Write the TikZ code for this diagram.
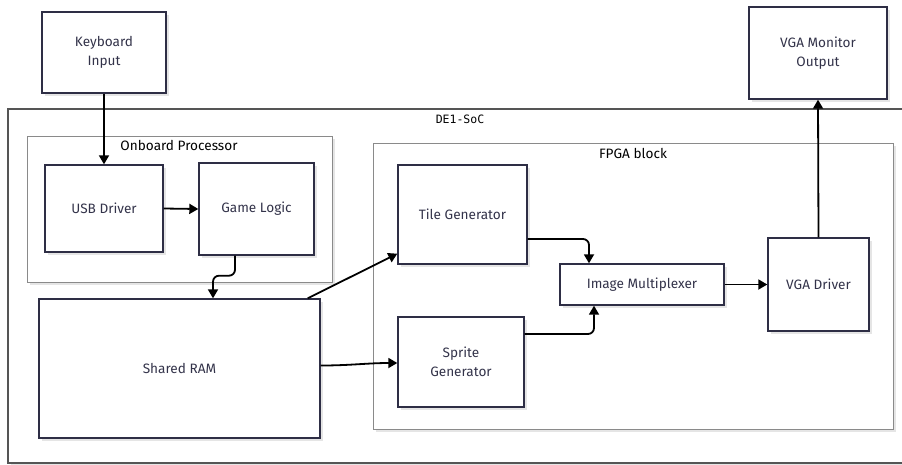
\documentclass[tikz,border=0pt]{standalone}
\usepackage{fontspec}
\setmainfont{Fira Sans}
\newfontfamily\monofont{DejaVu Sans Mono}
\usetikzlibrary{arrows.meta,shadows}
\definecolor{boxc}{HTML}{2E2E45}
\definecolor{txtc}{HTML}{33334A}
\definecolor{clgray}{HTML}{8A8A8A}
\definecolor{socgray}{HTML}{555555}
\begin{document}
\begin{tikzpicture}[x=1pt,y=-1pt,
  shad/.style={drop shadow={shadow xshift=2.5pt,shadow yshift=-2.5pt,fill=black!10,opacity=1}},
  box/.style={draw=boxc, line width=1.4pt, fill=white, text=txtc, align=center,
    font=\fontsize{13.6}{19}\selectfont, inner sep=0pt, shad},
  cluster/.style={draw=clgray, line width=0.9pt, fill=white, inner sep=0pt, shad},
  soc/.style={draw=socgray, line width=1.2pt, fill=white, inner sep=0pt, shad},
  cltitle/.style={text=black, font=\fontsize{13.6}{15}\selectfont, inner sep=0pt},
  arr/.style={-{Triangle[length=9pt,width=10pt]}, line width=1.8pt, black}
]
\useasboundingbox (0,0) rectangle (902,464);
% outer cluster
\node[soc, minimum width=900pt, minimum height=354pt] (socbox) at (458,286) {};
\node[cltitle, font=\monofont\fontsize{11.5}{14}\selectfont] (soclabel) at (460,119) {DE1-SoC};
% sub clusters
\node[cluster, minimum width=305pt, minimum height=146pt] (cpu) at (179.5,209) {};
\node[cltitle] (cpulabel) at (179,145) {Onboard Processor};
\node[cluster, minimum width=520pt, minimum height=286pt] (fpga) at (633,286) {};
\node[cltitle] (fpgalabel) at (633,153) {FPGA block};
% boxes
\node[box, minimum width=124pt, minimum height=81pt] (kb) at (104,52.5) {Keyboard\\Input};
\node[box, minimum width=138pt, minimum height=92pt] (mon) at (818,53) {VGA Monitor\\Output};
\node[box, minimum width=118pt, minimum height=87pt] (usb) at (104,208.5) {USB Driver};
\node[box, minimum width=115pt, minimum height=92pt] (gl) at (256.5,209) {Game Logic};
\node[box, minimum width=281pt, minimum height=139pt] (ram) at (179.5,368.5) {Shared RAM};
\node[box, minimum width=129pt, minimum height=99pt] (tile) at (462.5,214.5) {Tile Generator};
\node[box, minimum width=126pt, minimum height=90pt] (sprite) at (461,362) {Sprite\\Generator};
\node[box, minimum width=164pt, minimum height=41pt] (mux) at (642,284.5) {Image Multiplexer};
\node[box, minimum width=101pt, minimum height=93pt] (vga) at (818.5,284.5) {VGA Driver};
% connectors
\draw[arr] (kb.south) -- (usb.north);
\draw[arr] (usb.east) -- (gl.west);
\draw[arr, rounded corners=6pt] ([xshift=-21.5pt]gl.south) -- ++(0,20) -| ([xshift=33.5pt]ram.north);
\draw[arr] ([xshift=-13pt]ram.north east) -- ([yshift=11pt]tile.south west);
\draw[arr] ([yshift=3pt]ram.east) to[out=0,in=180] ([yshift=-1pt]sprite.west);
\draw[arr, rounded corners=6pt] ([yshift=-24.5pt]tile.east) -| ([xshift=-53pt]mux.north);
\draw[arr, rounded corners=6pt] ([yshift=28pt]sprite.east) -| ([xshift=-48pt]mux.south);
\draw[arr] (mux.east) -- (vga.west);
\draw[arr] (vga.north) -- (mon.south);
\end{tikzpicture}
\end{document}
